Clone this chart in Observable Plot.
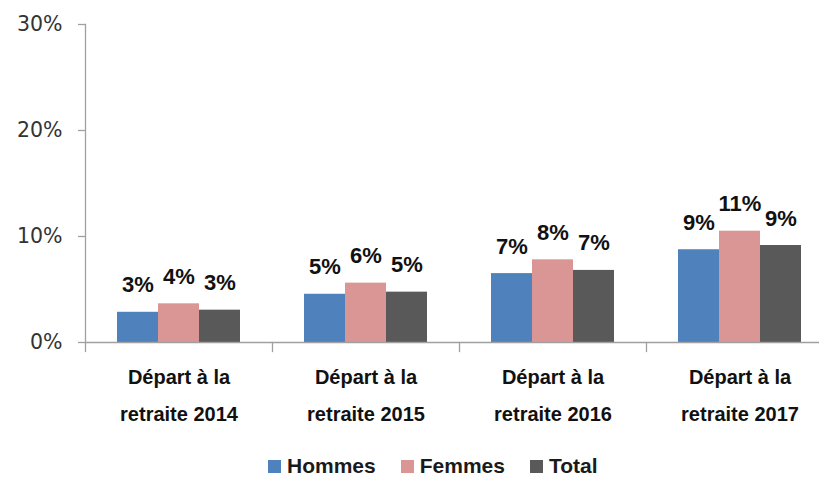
<!DOCTYPE html>
<html>
<head>
<meta charset="utf-8">
<script src="https://cdn.jsdelivr.net/npm/d3@7"></script>
<script src="https://cdn.jsdelivr.net/npm/@observablehq/plot@0.6"></script>
<style>
  html, body { margin: 0; padding: 0; background: #fff; }
  #chart svg { overflow: hidden; }
  #legend { height: 35px; display: flex; align-items: flex-end; padding-left: 268px; box-sizing: border-box;
            font-family: "Liberation Sans", Arial, sans-serif; font-weight: bold; font-size: 21px; color: #1a1a1a; line-height: 22px; }
  #legend .item { display: flex; align-items: baseline; margin-right: 25px; }
  #legend .sw { width: 13px; height: 13px; margin-right: 6px; display: inline-block; }
</style>
</head>
<body>
<div id="chart"></div>
<div id="legend"></div>
<script>
const categories = ["Départ à la\nretraite 2014", "Départ à la\nretraite 2015", "Départ à la\nretraite 2016", "Départ à la\nretraite 2017"];
const series = ["Hommes", "Femmes", "Total"];
const hommes = [2.85, 4.55, 6.5, 8.75];
const femmes = [3.65, 5.6, 7.8, 10.5];
const total  = [3.05, 4.75, 6.8, 9.15];
const colors = ["#4F81BD", "#D99694", "#595959"];
const yTicks = [0, 10, 20, 30];

const values = [hommes, femmes, total];
const data = [];
categories.forEach((c, i) => series.forEach((s, j) => data.push({cat: c, serie: s, value: values[j][i]})));

const axisColor = "#a0a0a0";
const chart = Plot.plot({
  width: 819,
  height: 442,
  marginLeft: 83,
  marginRight: -15,
  marginTop: 24,
  marginBottom: 100,
  style: {background: "#fff"},
  fx: {domain: categories, padding: 0, label: null},
  x: {domain: series, paddingInner: 0, paddingOuter: 0.74, axis: null},
  y: {domain: [0, 30], label: null},
  color: {domain: series, range: colors},
  marks: [
    Plot.barY(data, {fx: "cat", x: "serie", y: "value", fill: "serie"}),
    Plot.ruleY([0], {stroke: axisColor, strokeWidth: 1.3}),
    Plot.frame({anchor: "left", stroke: axisColor, strokeWidth: 1.3, insetTop: 318, insetBottom: -9}),
    Plot.frame({anchor: "left", fx: [categories[0]], stroke: axisColor, strokeWidth: 1.3}),
    Plot.axisY({ticks: yTicks, tickFormat: d => d + "%", tickSize: 7, tickPadding: 16,
                stroke: axisColor, strokeWidth: 1.3, fill: "#333", fontSize: 20.5, fontFamily: "DejaVu Sans", label: null}),
    Plot.axisFx({anchor: "bottom", tickSize: 0, tickPadding: 15, lineHeight: 1.85,
                 fontSize: 20, fontWeight: "bold", fontFamily: "'Liberation Sans', Arial, sans-serif",
                 fill: "#111", label: null}),
    Plot.text(data, {fx: "cat", x: "serie", y: "value", text: d => Math.round(d.value) + "%", dy: -27,
                     fontSize: 22, fontWeight: "bold", fontFamily: "'Liberation Sans', Arial, sans-serif", fill: "#111"})
  ]
});
document.getElementById("chart").append(chart);

const legend = document.getElementById("legend");
series.forEach((s, i) => {
  const item = document.createElement("div");
  item.className = "item";
  const sw = document.createElement("span");
  sw.className = "sw";
  sw.style.background = colors[i];
  const t = document.createElement("span");
  t.textContent = s;
  item.append(sw, t);
  legend.append(item);
});
</script>
</body>
</html>
